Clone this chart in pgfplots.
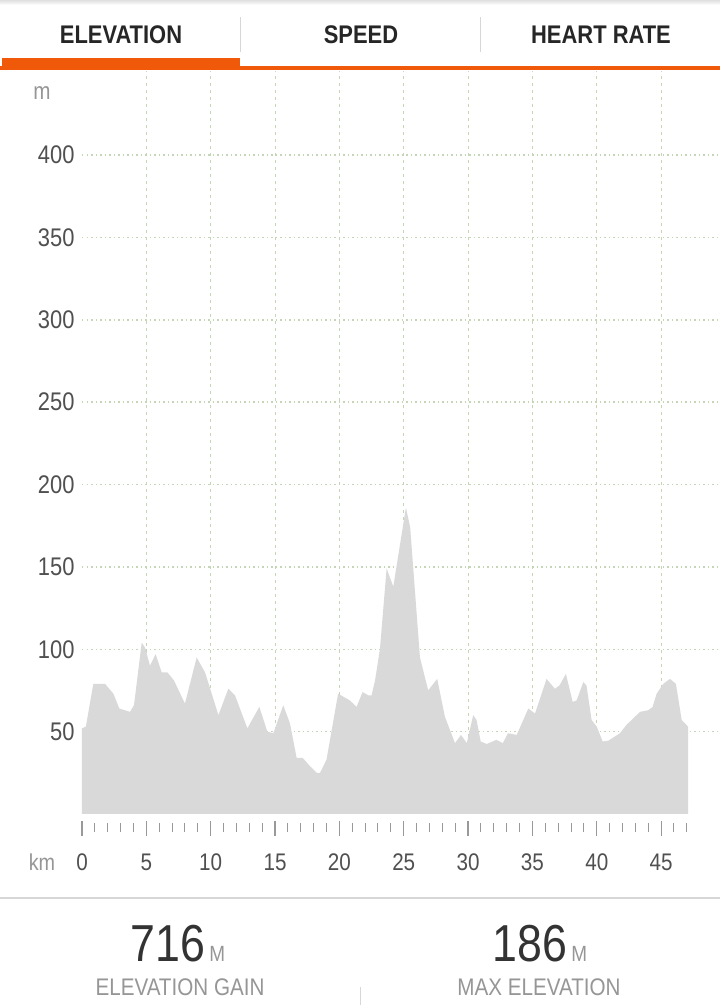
\documentclass[border=0pt]{standalone}
\usepackage{pgfplots}
\pgfplotsset{compat=1.18}
\usepackage{fontspec}
\setmainfont{Liberation Sans}[FakeStretch=0.86]
\definecolor{stravaorange}{RGB}{240,88,10}
\definecolor{areagray}{RGB}{217,217,217}
\definecolor{gridgreen}{RGB}{196,214,182}
\definecolor{ticktext}{RGB}{80,80,80}
\definecolor{lighttext}{RGB}{150,150,150}
\definecolor{sepgray}{RGB}{215,215,215}
\begin{document}
\begin{tikzpicture}[x=1pt,y=1pt]
\useasboundingbox (0,0) rectangle (720,1005);
\fill[white] (0,0) rectangle (720,1005);
% top shadow
\shade[top color=gray!25, bottom color=white] (0,1000) rectangle (720,1005);
% tabs
\node[font=\fontsize{25.5}{30}\selectfont\bfseries, text=black!85] at (121,970) {ELEVATION};
\node[font=\fontsize{25.5}{30}\selectfont\bfseries, text=black!85] at (361,970) {SPEED};
\node[font=\fontsize{25.5}{30}\selectfont\bfseries, text=black!85] at (601,970) {HEART RATE};
\draw[sepgray, line width=1pt] (240,953) -- (240,988);
\draw[sepgray, line width=1pt] (480,953) -- (480,988);
\fill[stravaorange] (2,935) rectangle (240,947);
\fill[stravaorange] (0,935) rectangle (720,938.5);
% unit labels
\node[font=\fontsize{24}{28}\selectfont, text=lighttext] at (42,912) {m};
\node[font=\fontsize{23}{27}\selectfont, text=lighttext] at (42,143) {km};

\begin{axis}[
  at={(82pt,191pt)}, anchor=south west,
  scale only axis, width=636pt, height=743pt,
  xmin=0, xmax=49.42, ymin=0, ymax=451,
  axis line style={draw=none},
  clip=false,
  xtick={5,10,...,45},
  extra x ticks={0},
  extra x tick style={grid=none},
  minor xtick={0,1,...,47},
  ytick={50,100,...,400},
  tick pos=left,
  tick align=inside,
  major tick length=15pt,
  minor tick length=9pt,
  every major x tick/.style={draw=gray!80, line width=1.2pt, yshift=-22pt},
  every minor x tick/.style={draw=gray!80, line width=1pt, yshift=-18pt},
  ytick style={draw=none},
  grid=major,
  x grid style={gridgreen, line width=1pt, dash pattern=on 3pt off 4pt},
  y grid style={gridgreen, line width=1.5pt, dash pattern=on 1.5pt off 3pt},
  /pgf/number format/assume math mode=true,
  tick label style={font=\fontsize{24}{28}\selectfont, text=ticktext},
  xticklabel style={anchor=center, yshift=-48pt},
  yticklabel style={anchor=east, xshift=-4pt, font=\fontsize{25.5}{30}\selectfont},
]
\addplot[fill=areagray, draw=none] table {
x y
0 52
0.3 53
0.88 79
1.79 79
2.44 73
2.9 64
3.73 62
4.04 66
4.64 104
4.9 101
5.28 90
5.72 97
6.19 86
6.63 86
7.15 81
8.0 67
8.91 95
9.56 86
10.6 60
11.37 76
11.89 72
12.85 52
13.78 65
14.4 50
14.87 49
15.64 66
16.16 55
16.68 34
17.15 34
17.72 29
18.23 25
18.5 25
19.0 33
19.9 73
20.8 69
21.34 65
21.8 74
22.25 72
22.5 72
22.77 81
23.15 100
23.67 149
24.19 138
25.17 186
25.5 174
26.26 95
26.9 75
27.6 82
28.2 59
28.98 43
29.45 48
29.9 43
30.4 60
30.66 57
30.98 44
31.45 42.5
32.2 45
32.7 43
33.1 49
33.78 48
34.68 64
35.2 61
36.1 82
36.75 76
37.1 78
37.6 85
38.13 68
38.44 69
38.95 80
39.2 78
39.6 57
40.0 53
40.46 44
40.9 44.5
41.8 49
42.3 54
43.36 62
44.0 63
44.34 65
44.65 73
45.17 79
45.69 82
46.15 79
46.6 57
47.1 53
} \closedcycle;
\end{axis}

% bottom panel
\draw[sepgray, line width=1.5pt] (0,107) -- (720,107);
\draw[sepgray, line width=1pt] (360,0) -- (360,18);
\node[anchor=base, inner sep=0pt] at (178,43) {\fontsize{52}{56}\selectfont\color{black!80}716\fontsize{22}{26}\selectfont\color{lighttext}\,M};
\node[anchor=base, inner sep=0pt] at (540,43) {\fontsize{52}{56}\selectfont\color{black!80}186\fontsize{22}{26}\selectfont\color{lighttext}\,M};
\node[font=\fontsize{24}{28}\selectfont, text=lighttext] at (180,18) {ELEVATION GAIN};
\node[font=\fontsize{24}{28}\selectfont, text=lighttext] at (539,18) {MAX ELEVATION};
\end{tikzpicture}
\end{document}
